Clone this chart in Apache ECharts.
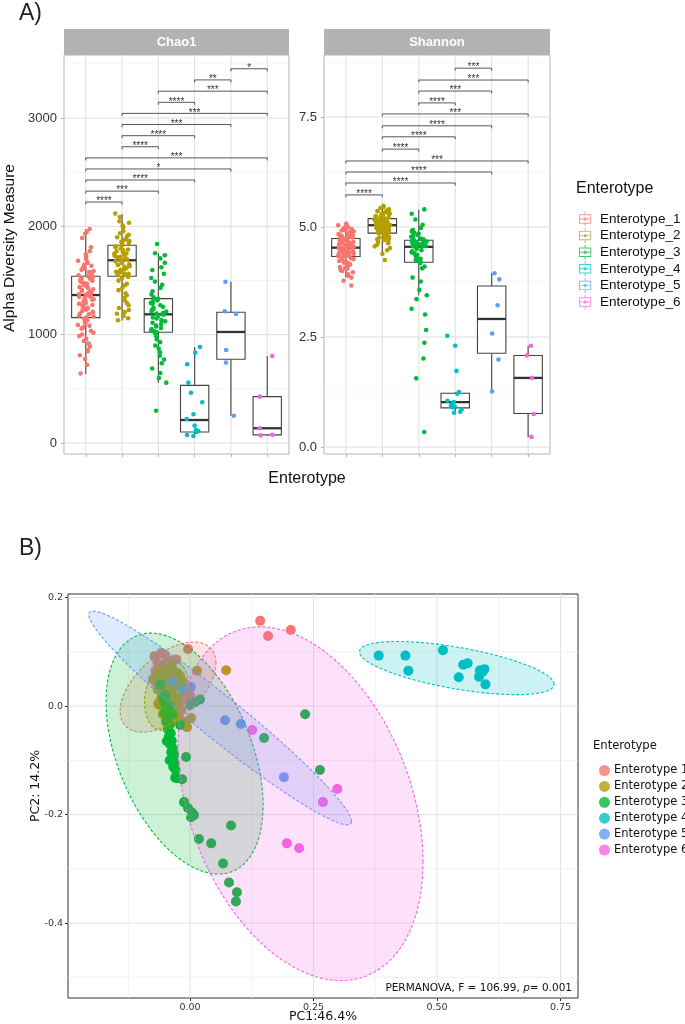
<!DOCTYPE html>
<html><head><meta charset="utf-8">
<script src="https://cdn.jsdelivr.net/npm/echarts@6/dist/echarts.min.js"></script>
<style>html,body{margin:0;padding:0;background:#fff}#c{width:685px;height:1024px}</style>
</head><body><div id="c"></div>
<script>
// ---------------- data ----------------
const groupsA = ['Enterotype_1','Enterotype_2','Enterotype_3','Enterotype_4','Enterotype_5','Enterotype_6'];
const groupsB = ['Enterotype 1','Enterotype 2','Enterotype 3','Enterotype 4','Enterotype 5','Enterotype 6'];
const palette = ['#F8766D','#B79F00','#00BA38','#00BFC4','#619CFF','#F564E3'];
const catPos = [1,2,3,4,5,6];

const chao1Ticks = [0,1000,2000,3000];
const chao1Minor = [500,1500,2500,3500];
const shannonTicks = [0,2.5,5,7.5];
const shannonMinor = [1.25,3.75,6.25,8.75];
const pcXTicks = [0,0.25,0.5,0.75];
const pcXMinor = [-0.125,0.125,0.375,0.625];
const pcYTicks = [-0.4,-0.2,0,0.2];
const pcYMinor = [-0.5,-0.3,-0.1,0.1];

// boxplot stats [min, Q1, median, Q3, max]
const chao1Box = [[637,1157,1366,1539,1975],[1130,1539,1687,1825,2114],[557,1022,1188,1333,1751],[65,101,212,532,886],[252,773,1025,1207,1489],[70,75,136,428,803]];
const shannonBox = [[3.86,4.33,4.53,4.74,5.08],[4.40,4.86,5.04,5.19,5.48],[3.45,4.20,4.55,4.70,5.39],[0.78,0.89,1.02,1.22,1.25],[1.26,2.13,2.91,3.66,3.95],[0.23,0.76,1.57,2.08,2.30]];

const chao1E1 = [1975,1950,1931,1892,1806,1771,1742,1718,1699,1683,1671,1662,1646,1637,1621,1612,1599,1588,1579,1570,1561,1549,
 1539,1532,1521,1516,1505,1499,1488,1480,1473,1463,1457,1444,1439,1430,1419,1414,1403,1398,1387,1381,1373,1367,
 1362,1354,1349,1336,1328,1323,1310,1305,1293,1286,1274,1268,1253,1249,1238,1231,1222,1212,1206,1194,1189,1177,1168,1159,
 1147,1133,1116,1106,1090,1083,1067,1055,1036,1018,1001,987,961,942,917,892,860,845,810,776,722,641];
const chao1E2 = [2118,2086,2047,2033,2009,1996,1987,1960,1952,1936,1922,1908,1899,1883,1874,1864,1857,1846,1839,1829,
 1823,1813,1807,1796,1786,1780,1769,1763,1750,1746,1734,1729,1719,1714,1705,1701,1697,1692,1690,1687,
 1683,1677,1666,1661,1649,1643,1632,1626,1613,1607,1596,1591,1581,1575,1565,1561,1552,1549,1543,1540,
 1534,1519,1499,1470,1456,1430,1411,1383,1364,1339,1319,1294,1272,1246,1228,1209,1193,1173,1151,1133];
const chao1E3 = [1837,1752,1733,1704,1663,1622,1596,1562,1523,1490,1461,1432,1400,1371,1344,
 1331,1317,1307,1293,1285,1271,1257,1248,1235,1227,1214,1209,1199,1194,1190,
 1184,1173,1159,1149,1134,1123,1109,1099,1085,1076,1061,1052,1039,1032,1023,
 1014,986,957,931,900,873,838,806,771,736,688,646,599,557,298];
const chao1E4 = [886,834,727,557,464,376,265,222,160,120,110,103,74,65];
const chao1E5 = [1489,1216,1191,859,742,252];
const chao1E6 = [803,428,136,75,70];

const shannonE1 = [5.08,5.05,5.04,5.01,4.99,4.98,4.96,4.94,4.93,4.92,4.90,4.88,4.87,4.86,4.84,4.82,4.81,4.80,4.78,4.77,4.76,4.75,
 4.74,4.73,4.71,4.70,4.69,4.68,4.67,4.66,4.65,4.64,4.63,4.62,4.61,4.60,4.59,4.58,4.57,4.57,4.56,4.55,4.54,4.54,4.53,
 4.52,4.51,4.50,4.49,4.49,4.48,4.47,4.46,4.45,4.44,4.43,4.42,4.41,4.40,4.39,4.38,4.37,4.36,4.35,4.35,4.34,4.33,4.33,
 4.31,4.29,4.27,4.26,4.23,4.21,4.19,4.17,4.15,4.13,4.11,4.09,4.07,4.05,4.02,4.00,3.97,3.93,3.89,3.85,3.78,3.67];
const shannonE2 = [5.48,5.45,5.43,5.40,5.38,5.36,5.35,5.33,5.31,5.30,5.29,5.28,5.27,5.26,5.25,5.24,5.23,5.22,5.21,5.20,
 5.19,5.18,5.17,5.16,5.16,5.15,5.14,5.13,5.12,5.11,5.10,5.10,5.09,5.08,5.07,5.07,5.06,5.05,5.05,5.04,
 5.03,5.02,5.01,5.00,4.99,4.98,4.98,4.97,4.96,4.95,4.94,4.93,4.92,4.91,4.90,4.89,4.89,4.88,4.87,4.86,
 4.85,4.84,4.82,4.81,4.79,4.78,4.76,4.75,4.73,4.72,4.70,4.68,4.66,4.63,4.60,4.56,4.52,4.47,4.39,4.25];
const shannonE3 = [5.40,5.30,5.17,5.05,4.98,4.93,4.90,4.87,4.85,4.82,4.80,4.78,4.76,4.74,4.72,
 4.70,4.69,4.68,4.67,4.66,4.65,4.64,4.63,4.62,4.61,4.60,4.59,4.58,4.57,4.56,
 4.55,4.52,4.50,4.47,4.45,4.42,4.40,4.37,4.35,4.32,4.30,4.28,4.25,4.23,4.21,
 4.18,4.10,4.06,3.85,3.76,3.57,3.45,3.36,3.14,3.01,2.66,2.37,2.01,1.56,0.34];
const shannonE4 = [2.53,2.30,1.73,1.25,1.21,1.05,1.02,1.00,0.95,0.92,0.90,0.85,0.80,0.78];
const shannonE5 = [3.95,3.81,3.22,2.58,1.99,1.26];
const shannonE6 = [2.30,2.08,1.57,0.75,0.23];

// significance brackets [from, to, label, y]
const chao1Sig = [[1,2,'****',2225],[1,3,'***',2325],[1,4,'****',2428],[1,5,'*',2530],[1,6,'***',2632],
 [2,3,'****',2735],[2,4,'****',2837],[2,5,'***',2940],[2,6,'***',3043],[3,4,'****',3145],[3,6,'***',3248],[4,5,'**',3352],[5,6,'*',3455]];
const shannonSig = [[1,2,'****',5.73],[1,4,'****',6.0],[1,5,'****',6.25],[1,6,'***',6.5],[2,3,'****',6.77],[2,4,'****',7.05],
 [2,5,'****',7.3],[2,6,'***',7.57],[3,4,'****',7.82],[3,5,'***',8.09],[3,6,'***',8.34],[4,5,'***',8.61]];

// PCoA coordinates [PC1, PC2]
const pcoaE1 = [[0.142,0.157],[0.158,0.129],[0.204,0.140],[-0.004,0.105],[-0.072,0.092],[-0.058,0.098],[-0.051,0.094],[-0.066,0.080],[-0.045,0.085],[-0.060,0.072],[-0.038,0.075],[-0.070,0.065],[-0.052,0.066],[-0.030,0.062],[-0.063,0.055],[-0.044,0.058],[-0.020,0.055],[-0.055,0.047],[-0.035,0.048],[-0.068,0.042],[-0.025,0.040],[-0.047,0.036],[-0.058,0.030],[-0.015,0.033],[-0.040,0.025],[-0.030,0.018],[-0.052,0.015],[-0.010,0.012],[-0.064,0.005],[-0.022,0.000],[-0.042,-0.010],[-0.006,0.017],[-0.036,-0.007],[-0.036,0.068],[-0.075,0.050],[-0.048,0.078],[0.000,0.020],[-0.028,0.086]];
const pcoaE2 = [[0.073,0.066],[0.014,0.065],[-0.006,-0.039],[0.002,-0.022],[-0.060,0.062],[-0.048,0.055],[-0.055,0.040],[-0.040,0.045],[-0.065,0.030],[-0.050,0.025],[-0.035,0.032],[-0.058,0.015],[-0.045,0.010],[-0.030,0.015],[-0.062,0.002],[-0.050,-0.005],[-0.038,-0.002],[-0.025,0.005],[-0.055,-0.015],[-0.042,-0.020],[-0.030,-0.012],[-0.018,-0.008],[-0.048,-0.030],[-0.035,-0.028],[-0.020,-0.025],[-0.012,0.022],[-0.040,0.070],[-0.025,0.060],[-0.068,0.050],[-0.015,0.045],[-0.008,-0.030]];
const pcoaE3 = [[0.233,-0.015],[0.150,-0.059],[0.263,-0.118],[-0.008,-0.094],[-0.026,-0.133],[-0.016,-0.135],[-0.012,-0.177],[-0.004,-0.188],[0.004,-0.196],[0.002,-0.205],[0.008,-0.201],[0.083,-0.220],[0.018,-0.245],[0.043,-0.253],[0.067,-0.290],[0.079,-0.325],[0.095,-0.343],[0.093,-0.360],
 [-0.050,0.005],[-0.046,-0.005],[-0.052,-0.012],[-0.044,-0.020],[-0.048,-0.028],[-0.041,-0.035],[-0.045,-0.042],[-0.039,-0.050],[-0.043,-0.057],[-0.037,-0.064],[-0.040,-0.071],[-0.035,-0.078],[-0.038,-0.085],[-0.033,-0.092],[-0.036,-0.098],[-0.031,-0.105],[-0.034,-0.112],[-0.029,-0.118],[-0.030,-0.132],[-0.036,-0.015],[-0.055,0.015],[-0.042,0.000],[-0.047,-0.065],[-0.032,-0.090],[-0.041,-0.100],
 [0.010,0.007],[0.000,0.002],[-0.050,0.020],[-0.020,-0.035],[0.020,0.012],[-0.060,0.040]];
const pcoaE4 = [[0.382,0.093],[0.436,0.093],[0.442,0.065],[0.512,0.103],[0.553,0.076],[0.562,0.079],[0.544,0.053],[0.587,0.066],[0.596,0.068],[0.585,0.054],[0.598,0.040],[0.592,0.063]];
const pcoaE5 = [[0.002,0.035],[0.071,-0.026],[0.103,-0.033],[0.190,-0.131],[-0.035,0.045],[-0.015,0.030]];
const pcoaE6 = [[0.126,-0.044],[0.298,-0.153],[0.269,-0.177],[0.196,-0.253],[0.221,-0.262]];

// confidence ellipses [centre PC1, centre PC2, half-width, half-height, correlation]
const ellipses = [[-0.0445,0.035,0.097,0.083,0.53],[-0.047,0.020,0.045,0.065,0.2],[-0.011,-0.0876,0.159,0.222,-0.43],
 [0.540,0.070,0.197,0.049,-0.61],[0.061,-0.022,0.266,0.197,-0.967],[0.2237,-0.180,0.248,0.326,-0.33]];

const chao1Sets = [chao1E1,chao1E2,chao1E3,chao1E4,chao1E5,chao1E6];
const shannonSets = [shannonE1,shannonE2,shannonE3,shannonE4,shannonE5,shannonE6];
const pcoaSets = [pcoaE1,pcoaE2,pcoaE3,pcoaE4,pcoaE5,pcoaE6];

// ---------------- chart ----------------
const FA = '"Liberation Sans", Arial, sans-serif';
const FB = '"DejaVu Sans", Verdana, sans-serif';
function rgba(hex,a){const n=parseInt(hex.slice(1),16);return 'rgba('+((n>>16)&255)+','+((n>>8)&255)+','+(n&255)+','+a+')';}
function jit(i,g){const s=Math.sin((i+1)*12.9898+(g+1)*78.233)*43758.5453;return (s-Math.floor(s))-0.5;}

function gridLines(gi, vals, dir, color, width){
  return {type:'custom', xAxisIndex:gi, yAxisIndex:gi, silent:true, z:1, clip:true,
    data: vals.map(v => dir==='x' ? [v,0] : [0,v]),
    renderItem(params, api){
      const cs = params.coordSys;
      const p = api.coord([api.value(0), api.value(1)]);
      const shape = dir==='x' ? {x1:p[0],y1:cs.y,x2:p[0],y2:cs.y+cs.height} : {x1:cs.x,y1:p[1],x2:cs.x+cs.width,y2:p[1]};
      return {type:'line', shape, style:{stroke:color, lineWidth:width}};
    }};
}
function boxSeries(gi, box){
  return {type:'custom', xAxisIndex:gi, yAxisIndex:gi, silent:true, z:2,
    data: box.map((b,i)=>[i+1].concat(b)),
    renderItem(params, api){
      const x = api.value(0);
      const c = k => api.coord([x, api.value(k)]);
      const pMin=c(1), pQ1=c(2), pMed=c(3), pQ3=c(4), pMax=c(5);
      const w = api.size([0.78,0])[0];
      const cx = pMed[0];
      const st = {stroke:'#444', lineWidth:1.1};
      return {type:'group', children:[
        {type:'line', shape:{x1:cx,y1:pMax[1],x2:cx,y2:pQ3[1]}, style:st},
        {type:'line', shape:{x1:cx,y1:pQ1[1],x2:cx,y2:pMin[1]}, style:st},
        {type:'rect', shape:{x:cx-w/2,y:pQ3[1],width:w,height:pQ1[1]-pQ3[1]}, style:{fill:'#fff',stroke:'#444',lineWidth:1.1}},
        {type:'line', shape:{x1:cx-w/2,y1:pMed[1],x2:cx+w/2,y2:pMed[1]}, style:{stroke:'#333',lineWidth:2.3}}
      ]};
    }};
}
function sigSeries(gi, sig){
  return {type:'custom', xAxisIndex:gi, yAxisIndex:gi, silent:true, z:4,
    data: sig.map(s=>[s[0], s[3], s[1]]),
    renderItem(params, api){
      const a = api.coord([api.value(0), api.value(1)]);
      const b = api.coord([api.value(2), api.value(1)]);
      const tip = 2.5;
      return {type:'group', children:[
        {type:'polyline', shape:{points:[[a[0],a[1]+tip],[a[0],a[1]],[b[0],b[1]],[b[0],b[1]+tip]]}, style:{stroke:'#444',lineWidth:0.9,fill:null}},
        {type:'text', x:(a[0]+b[0])/2, y:a[1]-0.5, style:{text:sig[params.dataIndex][2], font:'10px '+FA, fill:'#333', align:'center', verticalAlign:'middle'}}
      ]};
    }};
}

const series = [];
[[0,chao1Ticks,chao1Minor],[1,shannonTicks,shannonMinor]].forEach(([gi,maj,min])=>{
  series.push(gridLines(gi, min, 'y', '#EEEEEE', 0.6));
  series.push(gridLines(gi, maj, 'y', '#DEDEDE', 1));
  series.push(gridLines(gi, catPos, 'x', '#DEDEDE', 1));
});
series.push(gridLines(2, pcXMinor, 'x', '#EFEFEF', 0.8));
series.push(gridLines(2, pcYMinor, 'y', '#EFEFEF', 0.8));
series.push(gridLines(2, pcXTicks, 'x', '#E3E3E3', 1));
series.push(gridLines(2, pcYTicks, 'y', '#E3E3E3', 1));
series.push(boxSeries(0, chao1Box));
series.push(boxSeries(1, shannonBox));
[chao1Sets, shannonSets].forEach((sets, gi)=>{
  sets.forEach((vals, g)=>{
    series.push({type:'scatter', name:groupsA[g], xAxisIndex:gi, yAxisIndex:gi, z:3, silent:true,
      symbolSize:4.6, itemStyle:{color:palette[g], opacity:1},
      data: vals.map((v,i)=>[g+1+jit(i+gi*7,g)*0.44, v])});
  });
});
series.push(sigSeries(0, chao1Sig));
series.push(sigSeries(1, shannonSig));
pcoaSets.forEach((pts, g)=>{
  series.push({type:'scatter', name:groupsB[g], xAxisIndex:2, yAxisIndex:2, z:3, silent:true,
    symbolSize:10, itemStyle:{color:palette[g], opacity:1}, data: pts});
});
series.push({type:'custom', xAxisIndex:2, yAxisIndex:2, z:5, silent:true, clip:true,
  data: ellipses,
  renderItem(params, api){
    const cx=api.value(0), cy=api.value(1), rx=api.value(2), ry=api.value(3), r=api.value(4);
    const phi = Math.acos(r);
    const pts = [];
    for(let k=0;k<120;k++){const t=k/120*2*Math.PI; pts.push(api.coord([cx+rx*Math.cos(t), cy+ry*Math.cos(t-phi)]));}
    const col = palette[params.dataIndex];
    return {type:'polygon', shape:{points:pts}, style:{fill:rgba(col,0.2), stroke:col, lineWidth:1.1, lineDash:[3,2]}};
  }});

const axA = (gi)=>({gridIndex:gi, type:'value', min:0.4, max:6.6, axisLine:{show:false, onZero:false}, splitLine:{show:false},
  axisLabel:{show:false}, axisTick:{show:true, length:3, lineStyle:{color:'#B3B3B3', width:1}, customValues:catPos}});

const boxIcon = 'path://M6,0h1v3h-1z M0,3h13v10h-13z M1,4v8h11v-8z M1,7.5h11v1h-11z M6,13h1v3h-1z M4.7,8a1.8,1.8 0 1,1 3.6,0a1.8,1.8 0 1,1 -3.6,0z';

const option = {
  animation:false,
  backgroundColor:'#fff',
  grid:[
    {left:64, top:55, width:225, height:399, show:true, borderColor:'#B3B3B3', borderWidth:1, backgroundColor:'#fff', containLabel:false, outerBoundsMode:'none'},
    {left:324, top:55, width:226, height:399, show:true, borderColor:'#B3B3B3', borderWidth:1, backgroundColor:'#fff', containLabel:false, outerBoundsMode:'none'},
    {left:68, top:594, width:510, height:404, show:true, borderColor:'#333', borderWidth:1, backgroundColor:'#fff', containLabel:false, outerBoundsMode:'none'}
  ],
  xAxis:[ axA(0), axA(1),
    {gridIndex:2, type:'value', min:-0.247, max:0.7854, axisLine:{show:false, onZero:false}, splitLine:{show:false},
     axisTick:{show:true, length:3, lineStyle:{color:'#333'}, customValues:pcXTicks},
     axisLabel:{customValues:pcXTicks, formatter:v=>v.toFixed(2), fontSize:9.5, color:'#333', fontFamily:FB, margin:5}}
  ],
  yAxis:[
    {gridIndex:0, type:'value', min:-101.6, max:3582, axisLine:{show:false, onZero:false}, splitLine:{show:false},
     axisTick:{show:true, length:3, lineStyle:{color:'#B3B3B3'}, customValues:chao1Ticks},
     axisLabel:{customValues:chao1Ticks, formatter:v=>String(Math.round(v)), fontSize:13, color:'#333', fontFamily:FA, margin:7}},
    {gridIndex:1, type:'value', min:-0.159, max:8.909, axisLine:{show:false, onZero:false}, splitLine:{show:false},
     axisTick:{show:true, length:3, lineStyle:{color:'#B3B3B3'}, customValues:shannonTicks},
     axisLabel:{customValues:shannonTicks, formatter:v=>v.toFixed(1), fontSize:13, color:'#333', fontFamily:FA, margin:7}},
    {gridIndex:2, type:'value', min:-0.538, max:0.2065, axisLine:{show:false, onZero:false}, splitLine:{show:false},
     axisTick:{show:true, length:3, lineStyle:{color:'#333'}, customValues:pcYTicks},
     axisLabel:{customValues:pcYTicks, formatter:v=>v.toFixed(1), fontSize:9.5, color:'#333', fontFamily:FB, margin:5}}
  ],
  legend:[
    {data:groupsA, left:574, top:206.5, orient:'vertical', itemWidth:18, itemHeight:15, itemGap:1.6, icon:boxIcon,
     selectedMode:false, itemStyle:{opacity:0.75}, textStyle:{fontSize:13.5, fontFamily:FA, color:'#111', padding:[0,0,0,1]}},
    {data:groupsB, left:594, top:759.5, orient:'vertical', itemWidth:11, itemHeight:11, itemGap:3.9, icon:'circle',
     selectedMode:false, itemStyle:{opacity:0.8}, textStyle:{fontSize:11.5, fontFamily:FB, color:'#111', padding:[0,0,0,-1]}}
  ],
  graphic:[
    {type:'text', left:19, top:2, style:{text:'A)', font:'23px '+FA, fill:'#222'}},
    {type:'text', left:19, top:537, style:{text:'B)', font:'23px '+FA, fill:'#222'}},
    {type:'rect', shape:{x:64, y:29, width:225, height:26}, style:{fill:'#B3B3B3'}},
    {type:'rect', shape:{x:324, y:29, width:226, height:26}, style:{fill:'#B3B3B3'}},
    {type:'text', x:176.5, y:42, style:{text:'Chao1', font:'bold 13px '+FA, fill:'#fff', align:'center', verticalAlign:'middle'}},
    {type:'text', x:437, y:42, style:{text:'Shannon', font:'bold 13px '+FA, fill:'#fff', align:'center', verticalAlign:'middle'}},
    {type:'text', x:9.5, y:248, rotation:Math.PI/2, style:{text:'Alpha Diversity Measure', font:'15.5px '+FA, fill:'#111', align:'center', verticalAlign:'middle'}},
    {type:'text', x:307, y:479, style:{text:'Enterotype', font:'16px '+FA, fill:'#111', align:'center', verticalAlign:'middle'}},
    {type:'text', x:576, y:189, style:{text:'Enterotype', font:'16px '+FA, fill:'#111', align:'left', verticalAlign:'middle'}},
    {type:'text', x:593, y:746, style:{text:'Enterotype', font:'11.6px '+FB, fill:'#111', align:'left', verticalAlign:'middle'}},
    {type:'text', x:35.5, y:786, rotation:Math.PI/2, style:{text:'PC2: 14.2%', font:'12.5px '+FB, fill:'#111', align:'center', verticalAlign:'middle'}},
    {type:'text', x:323, y:1016.5, style:{text:'PC1:46.4%', font:'12.5px '+FB, fill:'#111', align:'center', verticalAlign:'middle'}},
    {type:'text', x:572, y:988, z:10, style:{text:'{n|PERMANOVA, F = 106.99, }{i|p}{n|= 0.001}', align:'right', verticalAlign:'middle',
      rich:{n:{fontFamily:FB, fontSize:10.5, fill:'#111'}, i:{fontFamily:FB, fontSize:10.5, fontStyle:'italic', fill:'#111'}}}}
  ],
  series
};
const chart = echarts.init(document.getElementById('c'));
chart.setOption(option);
</script>
</body></html>
